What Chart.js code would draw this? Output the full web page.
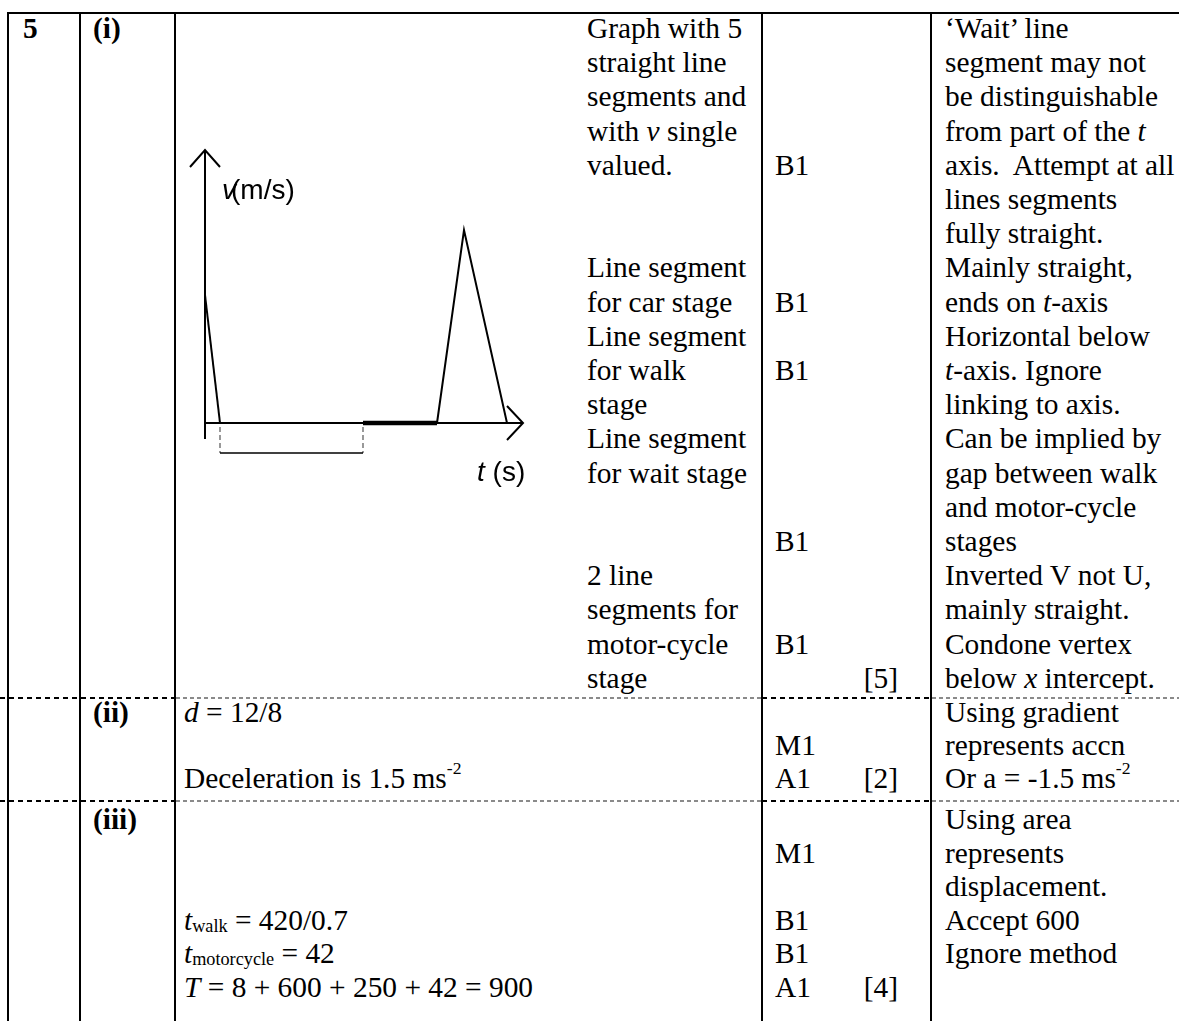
<!DOCTYPE html>
<html lang="en">
<head>
<meta charset="UTF-8">
<title>Mark scheme – question 5</title>
<script src="https://cdn.jsdelivr.net/npm/chart.js"></script>
<style>
  html, body { margin: 0; padding: 0; background: #fff; }
  body { width: 1179px; height: 1021px; position: relative; overflow: hidden;
         font-family: "Liberation Serif", "Times New Roman", serif; font-size: 29.4px; color: #000; }
  .t { position: absolute; line-height: 34.2px; white-space: nowrap; }
  .t2 { line-height: 33px; }
  .t3 { line-height: 33.6px; }
  .b { font-weight: bold; }
  .r { text-align: right; }
  .v { position: absolute; background: #000; width: 2px; top: 12px; height: 1009px; }
  .h { position: absolute; background: #000; height: 2px; }
  .dot { position: absolute; height: 2px; }
  .blk { background: repeating-linear-gradient(90deg, #000 0 5px, transparent 5px 9px); }
  .gry { background: repeating-linear-gradient(90deg, #8a8a8a 0 4px, transparent 4px 7px); height: 1.5px; }
  sup { font-size: 60%; line-height: 0; vertical-align: 0; position: relative; top: -0.75em; }
  sub { font-size: 62%; line-height: 0; vertical-align: -0.1em; }
  i { font-style: italic; }
  .lab { position: absolute; font-family: "Liberation Sans", Arial, sans-serif; font-size: 28px; line-height: 28px; white-space: nowrap; }
  #graph { position: absolute; left: 185px; top: 140px; }
</style>
</head>
<body>

<!-- table rules -->
<div class="h" style="left:7px; top:12px; width:1172px;"></div>
<div class="v" style="left:7px;"></div>
<div class="v" style="left:79px;"></div>
<div class="v" style="left:174px;"></div>
<div class="v" style="left:761px;"></div>
<div class="v" style="left:930px;"></div>

<div class="dot blk" style="left:0; top:697px; width:175px;"></div>
<div class="dot gry" style="left:176px; top:697px; width:585px;"></div>
<div class="dot blk" style="left:762px; top:697px; width:168px;"></div>
<div class="dot gry" style="left:932px; top:697px; width:247px;"></div>

<div class="dot blk" style="left:0; top:800px; width:175px;"></div>
<div class="dot gry" style="left:176px; top:800px; width:585px;"></div>
<div class="dot blk" style="left:762px; top:800px; width:168px;"></div>
<div class="dot gry" style="left:932px; top:800px; width:247px;"></div>

<!-- row (i) -->
<div class="t b" style="left:23px; top:11px;">5</div>
<div class="t b" style="left:93px; top:11px;">(i)</div>

<div class="t" style="left:587px; top:11px;">
Graph with 5<br>straight line<br>segments and<br>with <i>v</i> single<br>valued.<br>&nbsp;<br>&nbsp;<br>
Line segment<br>for car stage<br>Line segment<br>for walk<br>stage<br>Line segment<br>for wait stage<br>&nbsp;<br>&nbsp;<br>
2 line<br>segments for<br>motor-cycle<br>stage
</div>

<div class="t" style="left:775px; top:11px;">
&nbsp;<br>&nbsp;<br>&nbsp;<br>&nbsp;<br>B1<br>&nbsp;<br>&nbsp;<br>&nbsp;<br>B1<br>&nbsp;<br>B1<br>&nbsp;<br>&nbsp;<br>&nbsp;<br>&nbsp;<br>B1<br>&nbsp;<br>&nbsp;<br>B1
</div>
<div class="t r" style="left:840px; width:58px; top:660.8px;">[5]</div>

<div class="t" style="left:945px; top:11px;">
&lsquo;Wait&rsquo; line<br>segment may not<br>be distinguishable<br>from part of the <i>t</i><br>axis.&nbsp; Attempt at all<br>lines segments<br>fully straight.<br>
Mainly straight,<br>ends on <i>t</i>-axis<br>Horizontal below<br><i>t</i>-axis. Ignore<br>linking to axis.<br>Can be implied by<br>gap between walk<br>and motor-cycle<br>stages<br>
Inverted V not U,<br>mainly straight.<br>Condone vertex<br>below <i>x</i> intercept.
</div>

<!-- row (ii) -->
<div class="t t2 b" style="left:93px; top:695.5px;">(ii)</div>
<div class="t t2" style="left:184px; top:695.5px;"><i>d</i> = 12/8<br>&nbsp;<br>Deceleration is 1.5 ms<sup>-2</sup></div>
<div class="t t2" style="left:775px; top:695.5px;">&nbsp;<br>M1<br>A1</div>
<div class="t t2 r" style="left:840px; width:58px; top:761.5px;">[2]</div>
<div class="t t2" style="left:945px; top:695.5px;">Using gradient<br>represents accn<br>Or a = -1.5 ms<sup>-2</sup></div>

<!-- row (iii) -->
<div class="t t3 b" style="left:93px; top:803px;">(iii)</div>
<div class="t t3" style="left:184px; top:803px;">&nbsp;<br>&nbsp;<br>&nbsp;<br><i>t</i><sub>walk</sub> = 420/0.7<br><i>t</i><sub>motorcycle</sub> = 42<br><i>T</i> = 8 + 600 + 250 + 42 = 900</div>
<div class="t t3" style="left:775px; top:803px;">&nbsp;<br>M1<br>&nbsp;<br>B1<br>B1<br>A1</div>
<div class="t t3 r" style="left:840px; width:58px; top:971px;">[4]</div>
<div class="t t3" style="left:945px; top:803px;">Using area<br>represents<br>displacement.<br>Accept 600<br>Ignore method</div>

<!-- sketch graph -->
<canvas id="graph" width="360" height="360"></canvas>
<div class="lab" style="left:222px; top:176px;"><i style="letter-spacing:-5px;">v</i>(m/s)</div>
<div class="lab" style="left:477px; top:458px;"><i>t</i> (s)</div>

<script>
  // sketch units (the sketch is not to scale)
  const carT = [0, 15],          carV = [128, 0];
  const walkT = [15, 158],       walkV = [0, 0];
  const waitT = [158, 232],      waitV = [0, 0];
  const motoT = [232, 259, 302], motoV = [0, 193, 0];
  const bracketT = [15, 158];
  const bracketV = -30;
  const tAxisEnd = 318;
  const vAxisTop = 273, vAxisBottom = -16;

  const pts = (ts, vs) => ts.map((t, i) => ({ x: t, y: vs[i] }));

  // axes with open arrow heads
  const axesPlugin = {
    id: 'arrowAxes',
    beforeDatasetsDraw(chart) {
      const ctx = chart.ctx, x = chart.scales.x, y = chart.scales.y;
      const x0 = x.getPixelForValue(0), y0 = y.getPixelForValue(0);
      const xe = x.getPixelForValue(tAxisEnd), yt = y.getPixelForValue(vAxisTop);
      ctx.save();
      ctx.strokeStyle = '#000';
      ctx.lineWidth = 2;
      ctx.beginPath();
      ctx.moveTo(x0, y.getPixelForValue(vAxisBottom)); ctx.lineTo(x0, yt);
      ctx.moveTo(x0 - 15, yt + 17); ctx.lineTo(x0, yt); ctx.lineTo(x0 + 15, yt + 17);
      ctx.moveTo(x0 - 1, y0); ctx.lineTo(xe, y0);
      ctx.moveTo(xe - 16, y0 - 17); ctx.lineTo(xe, y0); ctx.lineTo(xe - 16, y0 + 17);
      ctx.stroke();
      ctx.restore();
    }
  };

  const line = (data, w, extra) => Object.assign({
    data, borderColor: '#000', borderWidth: w, pointRadius: 0, tension: 0,
    showLine: true, fill: false, clip: false
  }, extra || {});

  new Chart(document.getElementById('graph'), {
    type: 'scatter',
    data: {
      datasets: [
        line(pts(carT, carV), 2),
        line(pts(walkT, walkV), 2),
        line(pts(waitT, waitV), 4.5),
        line(pts(motoT, motoV), 2),
        line(pts(bracketT, [bracketV, bracketV]), 1.6),
        line([{ x: bracketT[0], y: -4 }, { x: bracketT[0], y: bracketV }], 1.2, { borderColor: '#555', borderDash: [5, 3] }),
        line([{ x: bracketT[1], y: -4 }, { x: bracketT[1], y: bracketV }], 1.2, { borderColor: '#555', borderDash: [5, 3] })
      ]
    },
    options: {
      responsive: false,
      animation: false,
      layout: { padding: 0 },
      plugins: { legend: { display: false }, tooltip: { enabled: false } },
      scales: {
        x: { type: 'linear', min: -20, max: 340, display: false },
        y: { type: 'linear', min: -77, max: 283, display: false }
      }
    },
    plugins: [axesPlugin]
  });
</script>

</body>
</html>
